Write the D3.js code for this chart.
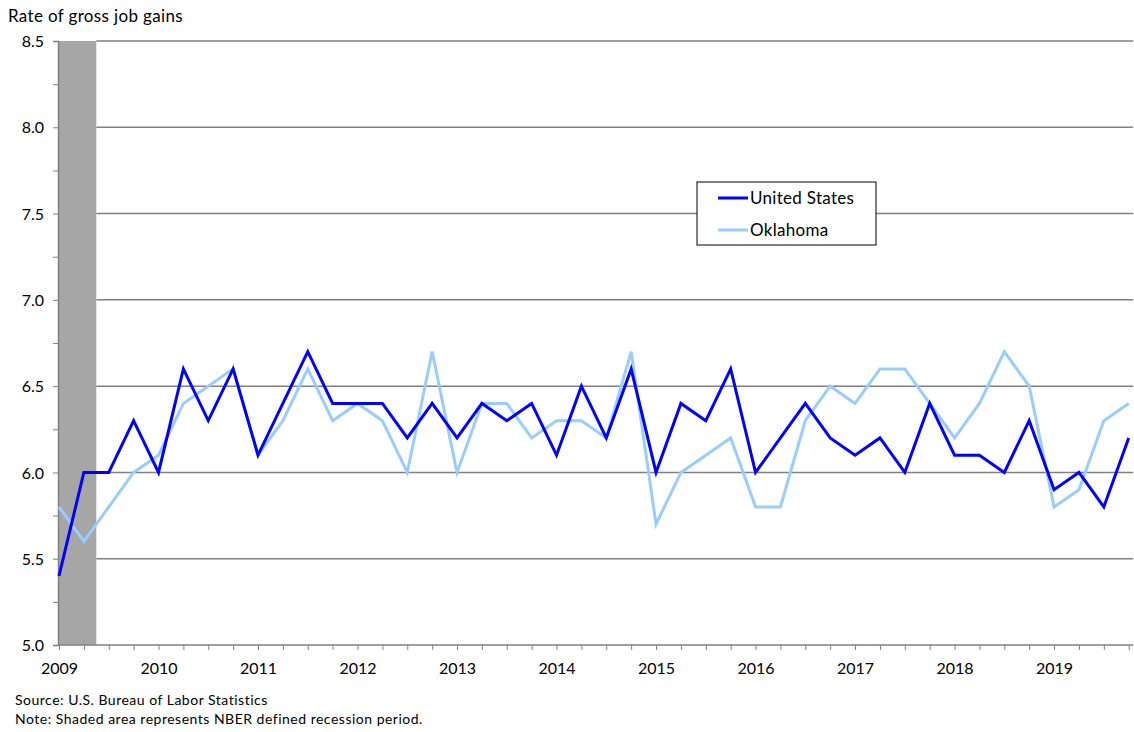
<!DOCTYPE html>
<html>
<head>
<meta charset="utf-8">
<script src="https://cdn.jsdelivr.net/npm/d3@7"></script>
<style>
  html, body { margin: 0; padding: 0; background: #fff; }
  svg { display: block; }
  text { font-family: Lato, "Open Sans", sans-serif; fill: #000; }
</style>
</head>
<body>
<svg id="chart" width="1134" height="732"></svg>
<script>
// ---- Data ----
const years = [2009, 2010, 2011, 2012, 2013, 2014, 2015, 2016, 2017, 2018, 2019];
const quarters = years.flatMap(y => [1, 2, 3, 4].map(q => y + " Q" + q));
const unitedStates = [
  5.4, 6.0, 6.0, 6.3,
  6.0, 6.6, 6.3, 6.6,
  6.1, 6.4, 6.7, 6.4,
  6.4, 6.4, 6.2, 6.4,
  6.2, 6.4, 6.3, 6.4,
  6.1, 6.5, 6.2, 6.6,
  6.0, 6.4, 6.3, 6.6,
  6.0, 6.2, 6.4, 6.2,
  6.1, 6.2, 6.0, 6.4,
  6.1, 6.1, 6.0, 6.3,
  5.9, 6.0, 5.8, 6.2
];
const oklahoma = [
  5.8, 5.6, 5.8, 6.0,
  6.1, 6.4, 6.5, 6.6,
  6.1, 6.3, 6.6, 6.3,
  6.4, 6.3, 6.0, 6.7,
  6.0, 6.4, 6.4, 6.2,
  6.3, 6.3, 6.2, 6.7,
  5.7, 6.0, 6.1, 6.2,
  5.8, 5.8, 6.3, 6.5,
  6.4, 6.6, 6.6, 6.4,
  6.2, 6.4, 6.7, 6.5,
  5.8, 5.9, 6.3, 6.4
];
const seriesNames = ["United States", "Oklahoma"];
const seriesColors = ["#0000ff", "#99ccff"];
const yTickLabels = [5.0, 5.5, 6.0, 6.5, 7.0, 7.5, 8.0, 8.5];
// recession shading, in quarter-index units (2009 Q1 to mid 2009 Q2)
const recessionStart = 0;
const recessionEnd = 1.5;

// ---- Layout ----
const svg = d3.select("#chart");
const pLeft = 58, pRight = 1133, pTop = 41, pBottom = 645;
const x = d3.scaleLinear().domain([0, quarters.length - 1]).range([59, 1128.7]);
const y = d3.scaleLinear().domain([5.0, 8.5]).range([pBottom, pTop]);

// title
svg.append("text").attr("x", 8).attr("y", 22).attr("font-size", 17)
  .attr("letter-spacing", 0.35).text("Rate of gross job gains");

// recession band
svg.append("rect")
  .attr("x", pLeft).attr("y", pTop)
  .attr("width", x(recessionEnd) - pLeft)
  .attr("height", pBottom - pTop)
  .attr("fill", "#a6a6a6");

// gridlines
svg.append("g").selectAll("line").data(yTickLabels.filter(v => v > 5.0)).join("line")
  .attr("x1", x(recessionEnd)).attr("x2", pRight)
  .attr("y1", d => y(d)).attr("y2", d => y(d))
  .attr("stroke", "#808080").attr("stroke-width", 1.5);

// y axis
const yMinor = d3.range(5.0, 8.5001, 0.25);
const yAxis = d3.axisLeft(y).tickValues(yMinor).tickSize(5)
  .tickFormat(d => (Math.abs(d * 2 - Math.round(d * 2)) < 1e-6) ? d3.format(".1f")(d) : "");
const yg = svg.append("g").attr("transform", `translate(${pLeft},0)`).call(yAxis);
yg.select(".domain").attr("stroke", "#808080").attr("stroke-width", 1.5);
yg.selectAll(".tick line").attr("stroke", "#808080");
yg.selectAll(".tick text").attr("font-size", 16).attr("x", -14).attr("dy", "0.35em")
  .style("font-family", "Lato, 'Open Sans', sans-serif").attr("fill", "#000");

// x axis
const xAxis = d3.axisBottom(x).tickValues(d3.range(quarters.length)).tickSize(5)
  .tickFormat(i => quarters[i].endsWith("Q1") ? quarters[i].slice(0, 4) : "");
const xg = svg.append("g").attr("transform", `translate(0,${pBottom})`).call(xAxis);
xg.select(".domain").attr("d", `M${pLeft},0H${pRight}`).attr("stroke", "#808080").attr("stroke-width", 1.5);
xg.selectAll(".tick line").attr("stroke", "#808080");
xg.selectAll(".tick text").attr("font-size", 16).attr("y", 18).attr("dy", "0.71em")
  .style("font-family", "Lato, 'Open Sans', sans-serif").attr("fill", "#000");

// lines
const line = d3.line().x((d, i) => x(i)).y(d => y(d));
[oklahoma, unitedStates].forEach((s, k) => {
  const idx = k === 0 ? 1 : 0;
  svg.append("path").datum(s)
    .attr("d", line)
    .attr("fill", "none")
    .attr("stroke", seriesColors[idx])
    .attr("stroke-width", 3)
    .attr("stroke-linejoin", "miter");
});

// legend
const lg = svg.append("g").attr("transform", "translate(697,182)");
lg.append("rect").attr("width", 179).attr("height", 63).attr("fill", "#fff").attr("stroke", "#000").attr("stroke-width", 1);
seriesNames.forEach((n, i) => {
  const ly = 16 + i * 32;
  lg.append("line").attr("x1", 21).attr("x2", 51).attr("y1", ly).attr("y2", ly)
    .attr("stroke", seriesColors[i]).attr("stroke-width", 3);
  lg.append("text").attr("x", 53).attr("y", ly).attr("dy", "0.35em").attr("font-size", 17)
    .attr("letter-spacing", 0.3).text(n);
});

// footer
svg.append("text").attr("x", 15).attr("y", 705).attr("font-size", 14).attr("letter-spacing", 0.5)
  .text("Source: U.S. Bureau of Labor Statistics");
svg.append("text").attr("x", 15).attr("y", 724).attr("font-size", 14).attr("letter-spacing", 0.5)
  .text("Note: Shaded area represents NBER defined recession period.");
</script>
</body>
</html>
